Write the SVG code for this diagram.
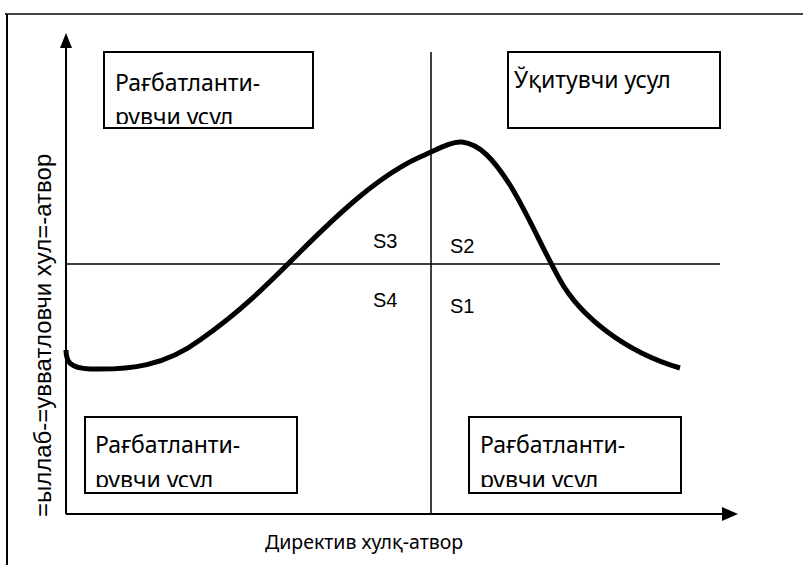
<svg xmlns="http://www.w3.org/2000/svg" width="803" height="565" viewBox="0 0 803 565">
<style>
.box{fill:#fff;stroke:#000;stroke-width:2}
.bt{font-family:"Noto Sans","Open Sans",sans-serif;font-size:23px;fill:#000}
.lb{font-family:"Noto Sans","Open Sans",sans-serif;font-size:19.5px;fill:#000}
.ax{stroke:#000;stroke-width:2;fill:none}
.ln{stroke:#000;stroke-width:1.5;fill:none}
.s{font-family:"Liberation Sans",Arial,sans-serif;font-size:20px;fill:#000}
</style>
<defs>
<clipPath id="c1"><rect x="104" y="52" width="209" height="72"/></clipPath>
<clipPath id="c3"><rect x="85" y="417" width="212" height="70"/></clipPath>
<clipPath id="c4"><rect x="469" y="417" width="212" height="70"/></clipPath>
</defs>
<rect width="803" height="565" fill="#fff"/>
<g id="frame">
<line x1="5" y1="14" x2="803" y2="14" stroke="#444" stroke-width="2"/>
<line x1="7" y1="14" x2="7" y2="565" stroke="#000" stroke-width="2"/>
</g>
<g id="connectors">
<line x1="66" y1="514" x2="66" y2="46" class="ax"/>
<path d="M66,33 L60,48 L72,48 z" fill="#000"/>
<line x1="66" y1="514" x2="724" y2="514" class="ax"/>
<path d="M738,514 L722,507 L722,521 z" fill="#000"/>
<line x1="431" y1="52" x2="431" y2="514" class="ln"/>
<line x1="66" y1="264" x2="720" y2="264" class="ln"/>
<path d="M66,350 C66,362 70,368 90,369 C130,370 165,366 200,340 C240,312 265,287 300,252 C340,212 380,175 420,157 C440,148 452,141 462,142 C480,144 494,160 510,185 C528,214 540,244 560,280 C580,316 625,352 680,368" fill="none" stroke="#000" stroke-width="5"/>
</g>
<g id="box1">
<rect class="box" x="104" y="52" width="209" height="76"/>
<g clip-path="url(#c1)"><text class="bt" x="115" y="91">Рағбатланти-</text><text class="bt" x="115" y="125">рувчи усул</text></g>
</g>
<g id="box2">
<rect class="box" x="508" y="52" width="212" height="76"/>
<text class="bt" x="514" y="88">Ўқитувчи усул</text>
</g>
<g id="box3">
<rect class="box" x="85" y="417" width="212" height="76"/>
<g clip-path="url(#c3)"><text class="bt" x="95" y="453">Рағбатланти-</text><text class="bt" x="95" y="488">рувчи усул</text></g>
</g>
<g id="box4">
<rect class="box" x="469" y="417" width="212" height="76"/>
<g clip-path="url(#c4)"><text class="bt" x="480" y="453">Рағбатланти-</text><text class="bt" x="480" y="488">рувчи усул</text></g>
</g>
<g id="labels">
<text class="s" x="373" y="248">S3</text>
<text class="s" x="450" y="253">S2</text>
<text class="s" x="373" y="307">S4</text>
<text class="s" x="450" y="313">S1</text>
<text class="lb" x="265" y="549">Директив хулқ-атвор</text>
<text class="s" transform="translate(51,517) rotate(-90)" x="0" y="0" style="font-size:24px">=ыллаб-=увватловчи хул=-атвор</text>
</g>
</svg>
